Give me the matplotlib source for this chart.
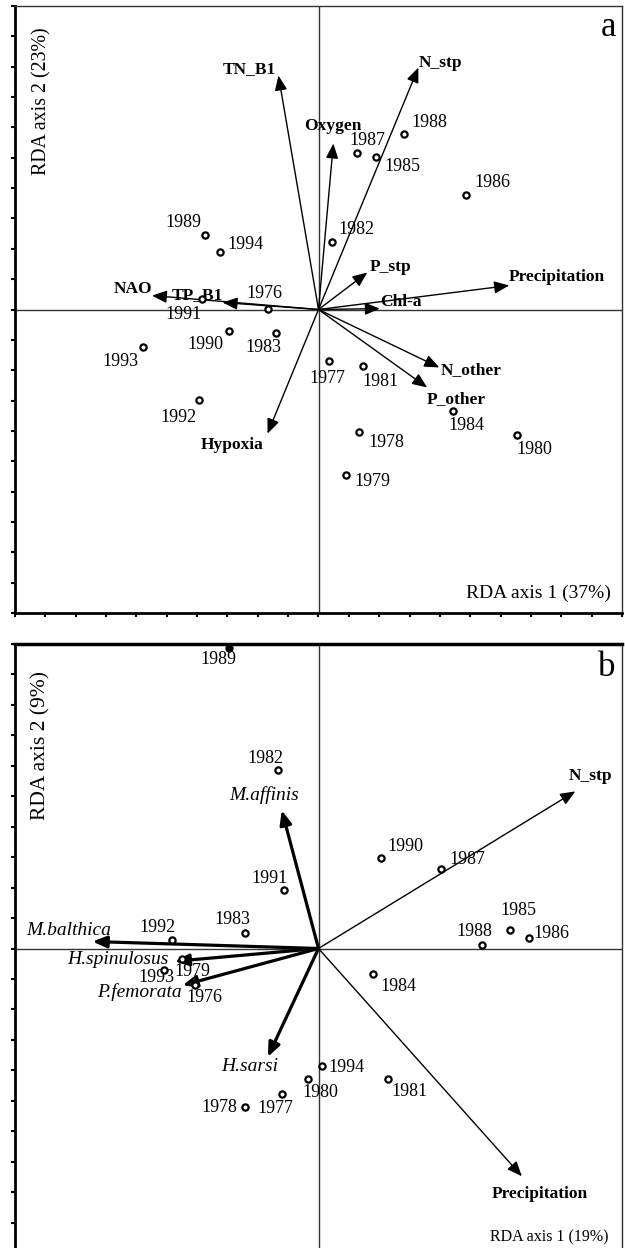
import numpy as np
import matplotlib as mpl
mpl.use('Agg')
from matplotlib import pyplot as plt

### plot settings - times look
plt.rcParams['font.family'] = ['Liberation Serif', 'DejaVu Serif']

############################### panel a - environment RDA
a_years = ['1989', '1994', '1976', '1991', '1990', '1983', '1993', '1992', '1977', '1981',
	'1984', '1980', '1978', '1979', '1988', '1987', '1985', '1986', '1982']
a_x = [-0.375, -0.326, -0.168, -0.385, -0.296, -0.141, -0.579, -0.395, 0.036, 0.148,
	0.444, 0.655, 0.135, 0.092, 0.283, 0.128, 0.188, 0.487, 0.046]
a_y = [0.247, 0.191, 0.003, 0.033, -0.072, -0.076, -0.122, -0.297, -0.171, -0.185,
	-0.336, -0.415, -0.402, -0.544, 0.577, 0.517, 0.501, 0.376, 0.224]

a_vars = ['TN_B1', 'N_stp', 'Oxygen', 'Precipitation', 'P_stp', 'Chl-a',
	'N_other', 'P_other', 'Hypoxia', 'NAO', 'TP_B1']
a_vx = [-0.132, 0.329, 0.049, 0.628, 0.161, 0.202, 0.398, 0.358, -0.168, -0.549, -0.316]
a_vy = [0.771, 0.797, 0.547, 0.079, 0.122, 0.003, -0.191, -0.257, -0.409, 0.046, 0.023]

############################### panel b - species RDA
b_years = ['1989', '1982', '1991', '1983', '1992', '1990', '1987', '1985', '1988', '1986',
	'1993', '1979', '1976', '1978', '1977', '1994', '1980', '1984', '1981']
b_x = [-0.294, -0.134, -0.114, -0.242, -0.484, 0.205, 0.405, 0.630, 0.539, 0.693,
	-0.510, -0.451, -0.408, -0.242, -0.121, 0.010, -0.036, 0.180, 0.229]
b_y = [0.987, 0.585, 0.193, 0.052, 0.029, 0.297, 0.261, 0.062, 0.013, 0.033,
	-0.069, -0.036, -0.121, -0.520, -0.477, -0.386, -0.428, -0.085, -0.428]

b_env = ['N_stp', 'Precipitation']
b_ex = [0.846, 0.670]
b_ey = [0.516, -0.748]

b_spec = ['M.affinis', 'M.balthica', 'H.spinulosus', 'P.femorata', 'H.sarsi']
b_sx = [-0.121, -0.745, -0.474, -0.448, -0.167]
b_sy = [0.454, 0.023, -0.042, -0.121, -0.356]

## label offsets from point / arrow tip (pixels, up = +)
a_year_off = [(-21, 12), (26, 7), (-3, 15), (-18, -15), (-23, -13), (-12, -15), (-22, -15),
	(-20, -18), (-2, -17), (17, -16), (13, -14), (17, -14), (27, -11), (26, -7), (25, 12),
	(10, 12), (27, -9), (26, 13), (24, 12)]
a_var_off = [(-29, 6), (22, 5), (-1, 17), (48, 9), (23, 5), (21, 7), (32, -3), (29, -12),
	(-35, -11), (-19, 7), (-25, 7)]
b_year_off = [(-11, -12), (-12, 12), (-14, 11), (-13, 13), (-14, 12), (25, 12), (26, 10),
	(9, 19), (-8, 13), (23, 5), (-7, -8), (11, -12), (10, -12), (-26, -1), (-6, -15),
	(25, -1), (13, -14), (25, -12), (21, -13)]
b_env_off = [(15, 15), (18, -18)]
b_spec_off = [(-18, 15), (-24, 11), (-57, 2), (-43, -7), (-18, -10)]


def arrow(ax, x, y, lw, ms):
	ax.annotate('', xy=(x, y), xytext=(0, 0),
		arrowprops=dict(arrowstyle='-|>,head_length=0.6,head_width=0.25',
			mutation_scale=ms, lw=lw, color='black', shrinkA=0, shrinkB=0))


def frame(ax):
	ax.axhline(0, color='#333333', lw=1.0, zorder=1)
	ax.axvline(0, color='#333333', lw=1.0, zorder=1)
	ax.set_xticks(np.arange(-1, 1.001, 0.1))
	ax.set_yticks(np.arange(-1, 1.001, 0.1))
	ax.set_xticklabels([])
	ax.set_yticklabels([])
	ax.tick_params(which='both', direction='out', length=3, width=1.5, color='black')
	for s in ['right', 'top']:
		ax.spines[s].set_linewidth(1.0)
		ax.spines[s].set_color('#333333')
	for s in ['left', 'bottom']:
		ax.spines[s].set_linewidth(2.0)
		ax.spines[s].set_color('black')


fig = plt.figure(figsize=(6.25, 12.48), dpi=100)

######## panel a
ax = fig.add_axes([15/625., 1 - 613/1248., 607/625., 607/1248.])
ax.set_xlim(-1, 1)
ax.set_ylim(-1, 1)
frame(ax)

for i, v in enumerate(a_vars):
	arrow(ax, a_vx[i], a_vy[i], 1.0, 15)
	ax.annotate(v, xy=(a_vx[i], a_vy[i]), xytext=a_var_off[i], textcoords='offset pixels',
		ha='center', va='center', fontsize=12.5, fontweight='bold')

ax.plot(a_x, a_y, 'o', ms=4.5, mfc='white', mec='black', mew=1.6, zorder=5)
for i, t in enumerate(a_years):
	ax.annotate(t, xy=(a_x[i], a_y[i]), xytext=a_year_off[i], textcoords='offset pixels',
		ha='center', va='center', fontsize=13)

ax.text(0.045, 0.843, 'RDA axis 2 (23%)', transform=ax.transAxes, rotation=90,
	ha='center', va='center', fontsize=14.3)
ax.text(0.863, 0.033, 'RDA axis 1 (37%)', transform=ax.transAxes,
	ha='center', va='center', fontsize=14)
ax.text(0.99, 0.964, 'a', transform=ax.transAxes, ha='right', va='center', fontsize=25)

######## panel b
ax = fig.add_axes([15/625., 1 - 1253/1248., 607/625., 609/1248.])
ax.set_xlim(-1.0, 0.98)
ax.set_ylim(-1.0, 0.99)
frame(ax)
ax.spines['top'].set_linewidth(2.5)
ax.spines['top'].set_color('black')
ax.tick_params(axis='x', length=0)

for i, v in enumerate(b_env):
	arrow(ax, b_ex[i], b_ey[i], 1.0, 15)
	ax.annotate(v, xy=(b_ex[i], b_ey[i]), xytext=b_env_off[i], textcoords='offset pixels',
		ha='center', va='center', fontsize=12.5, fontweight='bold')

for i, v in enumerate(b_spec):
	arrow(ax, b_sx[i], b_sy[i], 2.3, 14)
	ax.annotate(v, xy=(b_sx[i], b_sy[i]), xytext=b_spec_off[i], textcoords='offset pixels',
		ha='center', va='center', fontsize=14, style='italic')

ax.plot(b_x[1:], b_y[1:], 'o', ms=4.5, mfc='white', mec='black', mew=1.6, zorder=5)
ax.plot(b_x[:1], b_y[:1], 'o', ms=5, mfc='black', mec='black', zorder=6, clip_on=False)
for i, t in enumerate(b_years):
	ax.annotate(t, xy=(b_x[i], b_y[i]), xytext=b_year_off[i], textcoords='offset pixels',
		ha='center', va='center', fontsize=13)

ax.text(0.043, 0.834, 'RDA axis 2 (9%)', transform=ax.transAxes, rotation=90,
	ha='center', va='center', fontsize=15.5)
ax.text(0.88, 0.025, 'RDA axis 1 (19%)', transform=ax.transAxes,
	ha='center', va='center', fontsize=11.5)
ax.text(0.99, 0.962, 'b', transform=ax.transAxes, ha='right', va='center', fontsize=25)

fig.savefig('out.png', format='png', dpi=100)
plt.close()
